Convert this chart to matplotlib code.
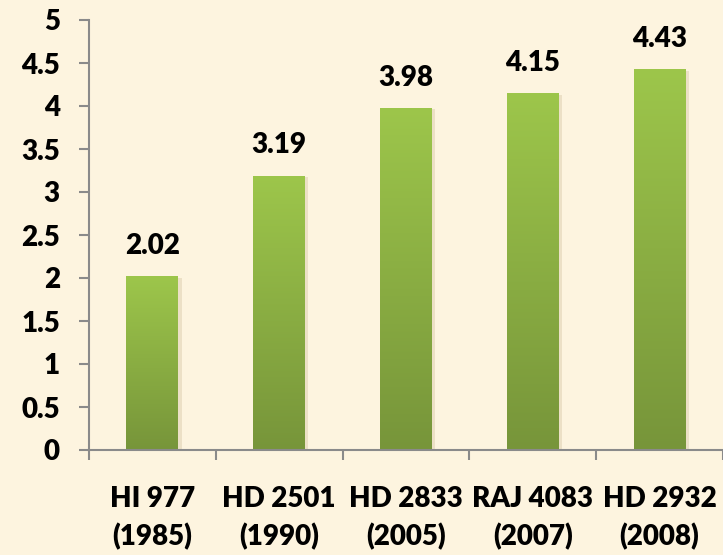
import matplotlib.pyplot as plt
import numpy as np
from matplotlib.colors import LinearSegmentedColormap

varieties = ["HI 977\n(1985)", "HD 2501\n(1990)", "HD 2833\n(2005)", "RAJ 4083\n(2007)", "HD 2932\n(2008)"]
yields = [2.02, 3.19, 3.98, 4.15, 4.43]
yticks = [0, 0.5, 1, 1.5, 2, 2.5, 3, 3.5, 4, 4.5, 5]
ytick_labels = ["0", "0.5", "1", "1.5", "2", "2.5", "3", "3.5", "4", "4.5", "5"]

plt.rcParams['font.family'] = ['Lato', 'DejaVu Sans']
plt.rcParams['font.weight'] = 'bold'

bg = '#fdf4df'
fig = plt.figure(figsize=(7.23, 5.55), dpi=100, facecolor=bg)
ax = fig.add_axes([89 / 723, 105 / 555, 634 / 723, 430 / 555], facecolor=bg)

x = np.arange(len(yields))
bars = ax.bar(x, yields, width=0.41, color='none', edgecolor='none', zorder=3)

# vertical gradient inside each bar, light on top, darker at the base
cmap = LinearSegmentedColormap.from_list('grn', ['#77953a', '#9dc64b'])
grad = np.linspace(0, 1, 256).reshape(-1, 1)
for b, v in zip(bars, yields):
    x0 = b.get_x()
    w = b.get_width()
    # soft shadow on the right
    ax.bar(x0 + w / 2 + 0.025, v - 0.02, width=w, color='#ece0c6', zorder=2)
    im = ax.imshow(grad, cmap=cmap, aspect='auto', origin='lower',
                   extent=[x0, x0 + w, 0, v], zorder=3)
    im.set_clip_path(b)
    ax.text(x0 + w / 2, v + 0.2, f"{v:.2f}", ha='center', va='bottom',
            fontsize=20, fontweight='heavy', color='black')

ax.set_xlim(-0.5, len(yields) - 0.5)
ax.set_ylim(0, 5)
ax.set_yticks(yticks)
ax.set_yticklabels(ytick_labels, fontsize=20, fontweight='heavy')
ax.set_xticks(x)
ax.set_xticklabels(varieties, fontsize=20, fontweight='heavy', linespacing=1.5)
ax.set_xticks(np.arange(len(yields) + 1) - 0.5, minor=True)

ax.tick_params(axis='y', length=7, width=1.5, color='#8a8a8a', pad=14)
ax.tick_params(axis='x', which='major', length=0, pad=26)
ax.tick_params(axis='x', which='minor', length=7, width=1.5, color='#8a8a8a')

for s in ['top', 'right']:
    ax.spines[s].set_visible(False)
for s in ['left', 'bottom']:
    ax.spines[s].set_color('#8a8a8a')
    ax.spines[s].set_linewidth(1.5)
    ax.spines[s].set_zorder(4)

fig.savefig('out.png', dpi=100, facecolor=bg)
